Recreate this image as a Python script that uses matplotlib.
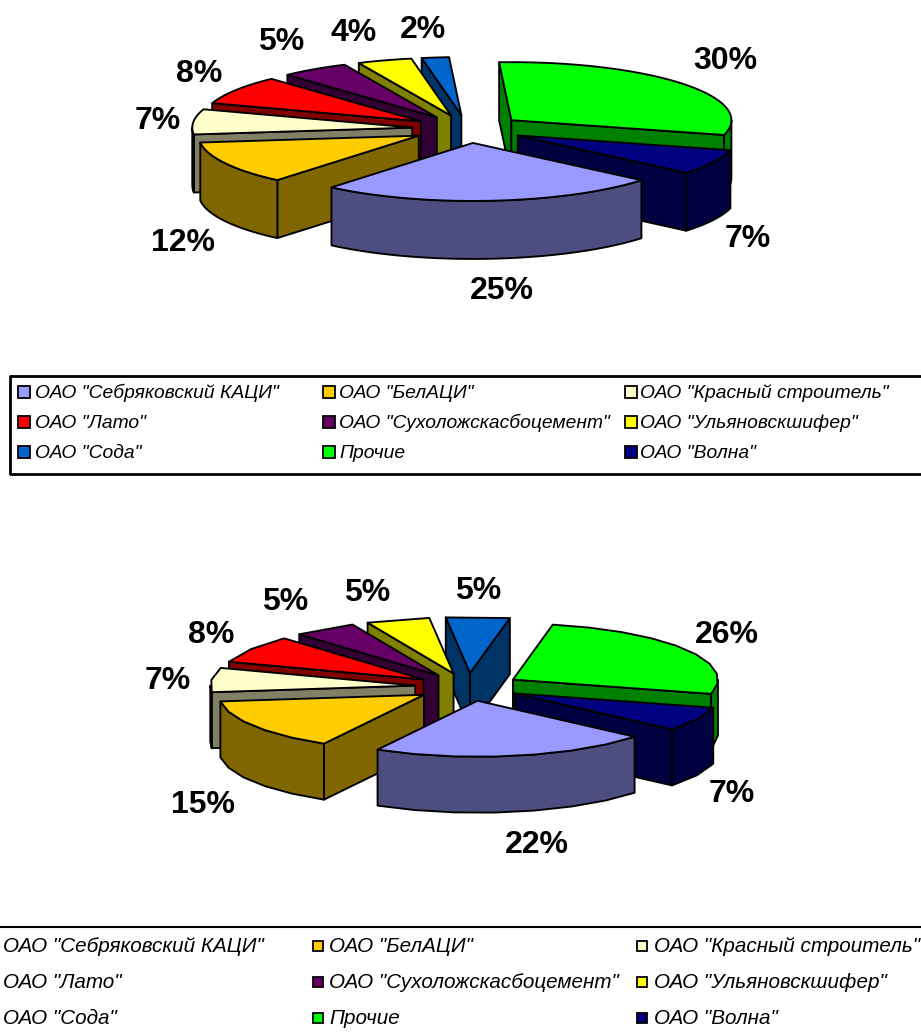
import numpy as np
import matplotlib
matplotlib.use('Agg')
import matplotlib.pyplot as plt
from matplotlib.patches import Polygon, Rectangle

plt.rcParams['font.family'] = ['Liberation Sans', 'DejaVu Sans']

names = ['ОАО "Себряковский КАЦИ"', 'ОАО "БелАЦИ"', 'ОАО "Красный строитель"',
         'ОАО "Лато"', 'ОАО "Сухоложскасбоцемент"', 'ОАО "Ульяновскшифер"',
         'ОАО "Сода"', 'Прочие', 'ОАО "Волна"']
values_top = [25, 12, 7, 8, 5, 4, 2, 30, 7]
values_bottom = [22, 15, 7, 8, 5, 5, 5, 26, 7]

colors = ['#9999FF', '#FFCC00', '#FFFFCC', '#FF0000', '#660066',
          '#FFFF00', '#0066CC', '#00FF00', '#000080']
wall_colors = ['#4D4D80', '#806600', '#808066', '#800000', '#330033',
               '#808000', '#003366', '#008000', '#000040']

labels_pos_top = [(502, 291), (183, 243), (158, 121), (199, 74), (281, 42),
                  (354, 33), (423, 30), (725, 61), (748, 239)]
labels_pos_bottom = [(537, 845), (203, 805), (168, 681), (211, 635), (285, 602),
                     (367, 593), (478, 591), (727, 635), (732, 794)]


def arc(ax_x, ax_y, rx, ry, t1, t2, step):
    n = max(int(abs(t2 - t1) / step), 1) + 1
    t = np.radians(np.linspace(t1, t2, n))
    return np.column_stack([ax_x + rx * np.sin(t), ax_y - ry * np.cos(t)])


def face(ax, pts, color):
    ax.add_patch(Polygon(pts, closed=True, facecolor=color, edgecolor='black',
                         lw=1.35, joinstyle='round'))


def draw_pie(ax, values, cx, cy, rx, ry, ex, ey, h, step, start=130):
    total = float(sum(values))
    slices = []
    a = start
    for i, v in enumerate(values):
        b = a + 360 * v / total
        slices.append((i, a, b))
        a = b
    # back to front
    slices.sort(key=lambda s: np.cos(np.radians((s[1] + s[2]) / 2)), reverse=True)
    for i, a, b in slices:
        mid = np.radians((a + b) / 2)
        px = cx + ex * np.sin(mid)
        py = cy - ey * np.cos(mid)
        top = arc(px, py, rx, ry, a, b, step)
        down = np.array([0, h])
        apex = np.array([px, py])
        # side walls, only those facing the viewer
        pa, pb = top[0], top[-1]
        da, db = pa - apex, pb - apex
        if da[0] * down[1] - da[1] * down[0] < 0:
            face(ax, [apex, pa, pa + down, apex + down], wall_colors[i])
        if db[0] * down[1] - db[1] * down[0] > 0:
            face(ax, [apex, pb, pb + down, apex + down], wall_colors[i])
        # outer wall, front half of the ellipse
        for k in (-360, 0, 360):
            lo = max(a, 90 + k)
            hi = min(b, 270 + k)
            if hi > lo:
                w = arc(px, py, rx, ry, lo, hi, step)
                face(ax, np.vstack([w, (w + down)[::-1]]), wall_colors[i])
        face(ax, np.vstack([apex, top]), colors[i])


def draw_legend(ax, xs_box, xs_text, ys, size, fs):
    for i, name in enumerate(names):
        x = xs_box[i % 3]
        y = ys[i // 3]
        ax.add_patch(Rectangle((x, y - size / 2), size, size, facecolor=colors[i],
                               edgecolor='black', lw=1.3))
        ax.text(xs_text[i % 3], y + 1, name, fontsize=fs, style='italic', ha='left',
                va='center', color='black')


fig = plt.figure(figsize=(9.21, 10.35), dpi=100)
ax = fig.add_axes([0, 0, 1, 1])
ax.set_xlim(0, 921)
ax.set_ylim(1035, 0)
ax.axis('off')

draw_pie(ax, values_top, 468, 129, 220, 58, 56, 14, 58, 2)
draw_pie(ax, values_bottom, 468, 687, 205, 56, 53, 14, 56, 10)

for vals, pos in ((values_top, labels_pos_top), (values_bottom, labels_pos_bottom)):
    for v, (x, y) in zip(vals, pos):
        ax.text(x, y, '%d%%' % v, fontsize=23, fontweight='bold', ha='center',
                va='center', color='black')

# legend frames
ax.plot([930, 10, 10, 930], [376, 376, 474, 474], color='black', lw=2)
ax.plot([0, 921], [927, 927], color='black', lw=1.5)

draw_legend(ax, [18, 323, 625], [35, 339, 640], [392, 422, 452], 12, 13.9)
draw_legend(ax, [-12, 313, 637], [3, 329, 654], [946, 982, 1018], 10, 14.9)

fig.savefig('out.png', dpi=100)
